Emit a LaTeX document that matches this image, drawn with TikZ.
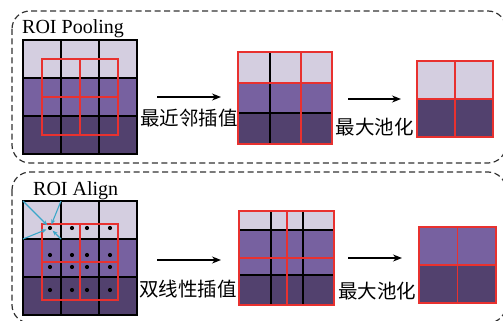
\documentclass[tikz,border=0pt]{standalone}
\usepackage{fontspec}
\setmainfont{Liberation Serif}
\newfontfamily\cjk{Noto Sans CJK SC}
\usetikzlibrary{arrows.meta}
\definecolor{lt}{HTML}{D4CEE0}
\definecolor{md}{HTML}{7761A0}
\definecolor{dk}{HTML}{52416E}
\definecolor{rd}{HTML}{E8312F}
\definecolor{cy}{HTML}{3BA7C9}
\definecolor{frame}{HTML}{333333}
\tikzset{
  panel/.style={draw=frame, line width=1.2pt, dash pattern=on 6pt off 3.5pt, rounded corners=18pt},
  blk/.style={draw=black, line width=1.3pt},
  redl/.style={draw=rd, line width=1.3pt},
  flow/.style={draw=black, line width=1.4pt, -{Stealth[length=9pt,width=7pt]}},
  samp/.style={draw=cy, line width=1.1pt, -{Stealth[length=5pt,width=4pt]}, shorten >=1.5pt},
  title/.style={inner sep=0pt, anchor=base west, font=\fontsize{20}{22}\selectfont},
  cn/.style={inner sep=0pt, font=\cjk\fontsize{19.5}{21}\selectfont},
  dot/.style={circle, fill=black, inner sep=0pt, minimum size=4.2pt}
}
\begin{document}
\begin{tikzpicture}[x=1pt,y=-1pt]
\useasboundingbox (0,0) rectangle (503,321);
% panels
\draw[panel] (12,11) rectangle (506,163);
\draw[panel] (12,172) rectangle (506,323);
% titles
\node[title] (t1) at (22,33.7) {ROI Pooling};
\node[title] (t2) at (33,195) {ROI Align};

% ===== top panel: input grid
\fill[lt] (23,40) rectangle (137,78);
\fill[md] (23,78) rectangle (137,116);
\fill[dk] (23,116) rectangle (137,154);
\draw[blk] (61,40) -- (61,154);
\draw[blk] (99,40) -- (99,154);
\draw[blk] (23,78) -- (137,78);
\draw[blk] (23,116) -- (137,116);
\draw[blk] (23,40) rectangle (137,154);
\draw[redl] (42,59) rectangle (118,135);
\draw[redl] (80,59) -- (80,135);
\draw[redl] (42,97) -- (118,97);

% top arrow 1
\coordinate (a1s) at (157,97);
\coordinate (a1e) at (221,97);
\draw[flow] (a1s) -- (a1e);
\node[cn] (l1) at (189,118) {最近邻插值};

% top middle grid
\fill[lt] (238,52) rectangle (332,83);
\fill[md] (238,83) rectangle (332,113);
\fill[dk] (238,113) rectangle (332,144);
\draw[blk] (270,52) -- (270,144);
\draw[blk] (238,113) -- (332,113);
\draw[redl] (301,52) -- (301,144);
\draw[redl] (238,83) -- (332,83);
\draw[redl] (238,52) rectangle (332,144);

% top arrow 2
\coordinate (a2s) at (348,99);
\coordinate (a2e) at (401,99);
\draw[flow] (a2s) -- (a2e);
\node[cn] (l2) at (374.5,127.5) {最大池化};

% top right grid
\fill[lt] (417,61) rectangle (493,99);
\fill[dk] (417,99) rectangle (493,137);
\draw[redl] (455,61) -- (455,137);
\draw[redl] (417,99) -- (493,99);
\draw[redl] (417,61) rectangle (493,137);

% ===== bottom panel: input grid
\fill[lt] (23,201) rectangle (137,239);
\fill[md] (23,239) rectangle (137,277);
\fill[dk] (23,277) rectangle (137,315);
\draw[blk] (61,201) -- (61,315);
\draw[blk] (99,201) -- (99,315);
\draw[blk] (23,239) -- (137,239);
\draw[blk] (23,277) -- (137,277);
\draw[blk] (23,201) rectangle (137,315);
\draw[redl] (42,224) rectangle (118,300);
\draw[redl] (80,224) -- (80,300);
\draw[redl] (42,262) -- (118,262);
% sample points
\foreach \yy [count=\j] in {228,255,267,290}
  \foreach \xx [count=\i] in {50,72,87,110}
    \node[dot] (p\i\j) at (\xx,\yy) {};
% bilinear neighbours
\coordinate (c1) at (23,201);
\coordinate (c2) at (61,201);
\coordinate (c3) at (23,239);
\coordinate (c4) at (61,239);
\foreach \c in {c1,c2,c3,c4} \draw[samp] (\c) -- (p11);

% bottom arrow 1
\coordinate (b1s) at (157,260);
\coordinate (b1e) at (221,260);
\draw[flow] (b1s) -- (b1e);
\node[cn] (l3) at (188,289) {双线性插值};

% bottom middle grid
\fill[lt] (239,211) rectangle (334,230);
\fill[md] (239,230) rectangle (334,275);
\fill[dk] (239,275) rectangle (334,305);
\draw[blk] (271,211) -- (271,305);
\draw[blk] (303,211) -- (303,305);
\draw[blk] (239,230) -- (334,230);
\draw[blk] (239,275) -- (334,275);
\draw[redl] (287,211) -- (287,305);
\draw[redl] (239,258) -- (334,258);
\draw[redl] (239,211) rectangle (334,305);

% bottom arrow 2
\coordinate (b2s) at (348,258);
\coordinate (b2e) at (402,258);
\draw[flow] (b2s) -- (b2e);
\node[cn] (l4) at (377,291.5) {最大池化};

% bottom right grid
\fill[md] (419,227) rectangle (496,265);
\fill[dk] (419,265) rectangle (496,303);
\draw[redl] (457.5,227) -- (457.5,303);
\draw[redl] (419,265) -- (496,265);
\draw[redl] (419,227) rectangle (496,303);
\end{tikzpicture}
\end{document}
